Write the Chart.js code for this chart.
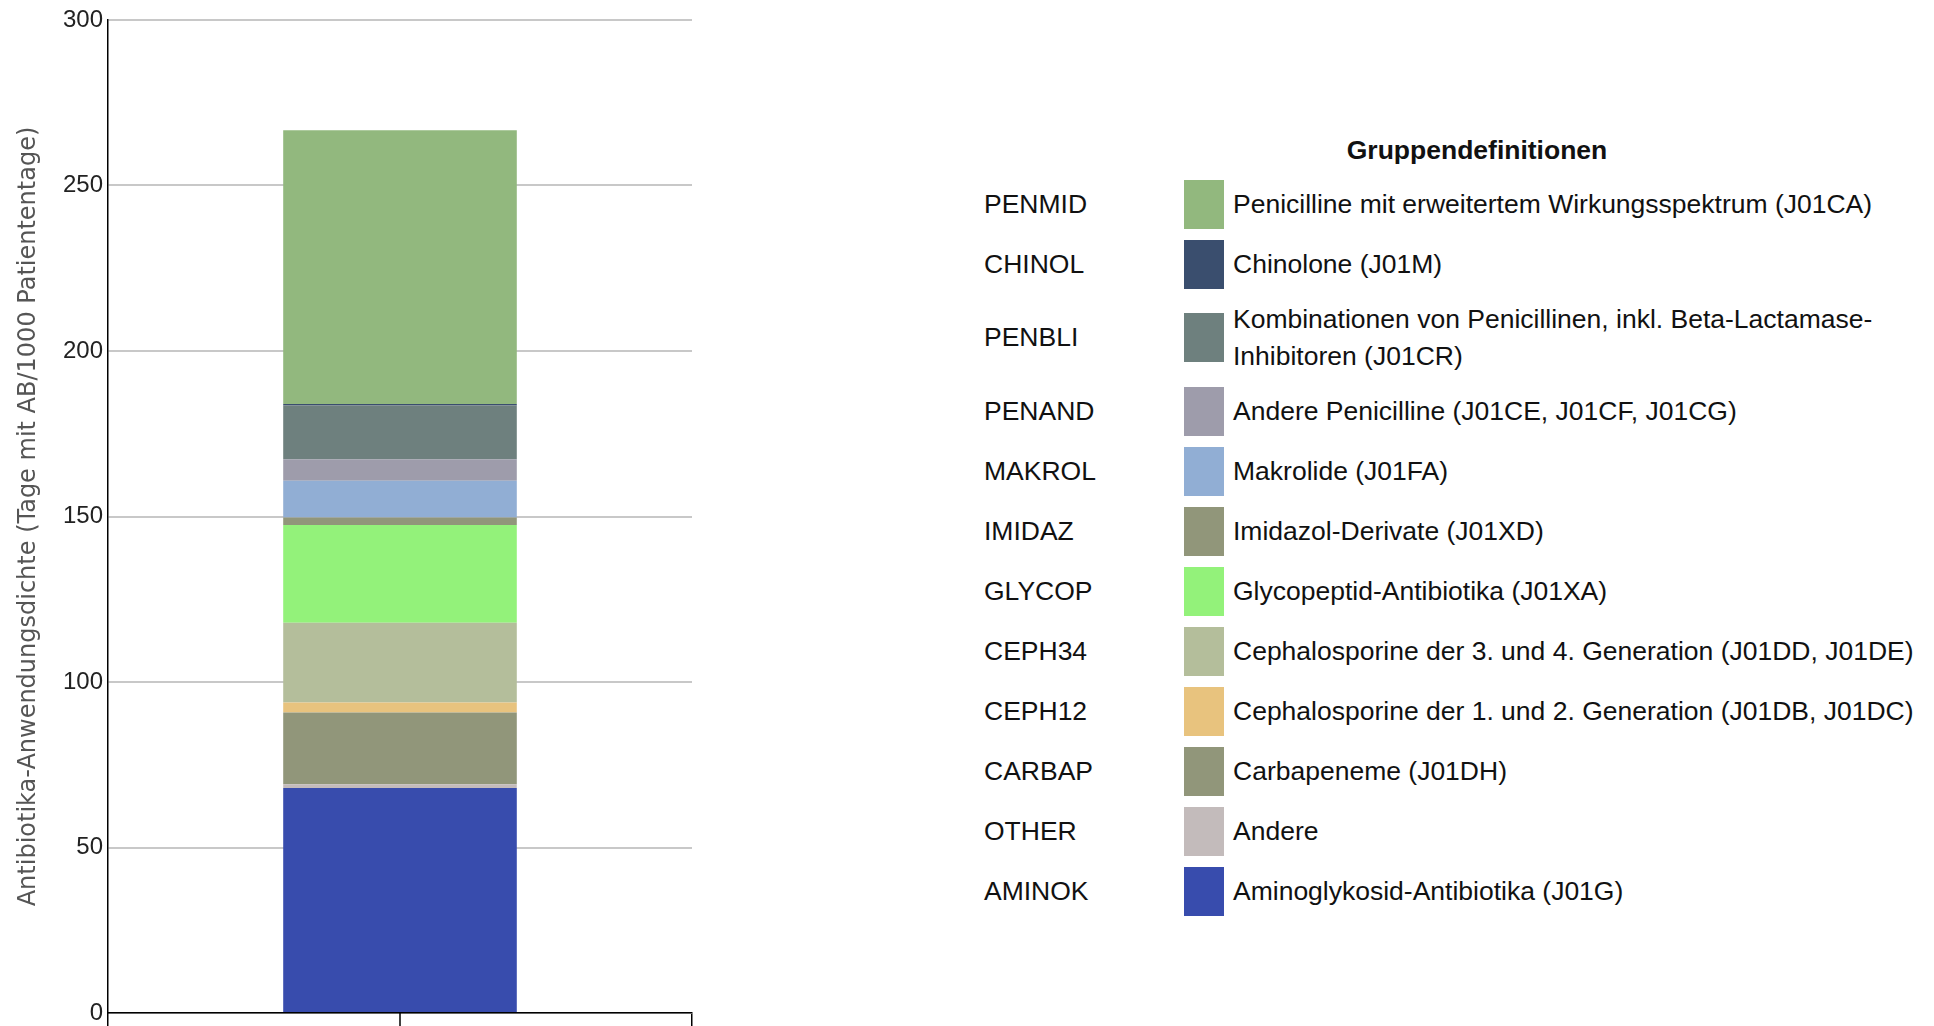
<!DOCTYPE html>
<html>
<head>
<meta charset="utf-8">
<script src="https://cdn.jsdelivr.net/npm/chart.js@4.4.1/dist/chart.umd.min.js"></script>
<style>
    body { margin: 0; background: #fff; font-family: "Liberation Sans", Arial, sans-serif; }
    #chartBox { position: absolute; left: 0; top: 0; width: 710px; height: 1026px; }
    #legendTitle { position: absolute; left: 1277px; width: 400px; top: 135px; text-align: center;
        font-weight: bold; font-size: 26.5px; color: #111; }
    #legend { position: absolute; left: 984px; top: 174px; border-collapse: collapse; font-size: 26.5px; color: #111; }
    #legend td { padding: 5.5px 0; vertical-align: middle; line-height: 37px; white-space: nowrap; }
    #legend tr.two td { padding-top: 6.8px; padding-bottom: 6.8px; }
    #legend td.code { width: 200px; }
    #legend td.sw div { width: 40px; height: 49px; }
    #legend td.txt { padding-left: 9px; width: 700px; }
</style>
</head>
<body>
<div id="chartBox"><canvas id="myChart"></canvas></div>
<div id="legendTitle">Gruppendefinitionen</div>
<table id="legend"></table>
<script>
// stacking order, bottom to top
var groups = ['AMINOK', 'OTHER', 'CARBAP', 'CEPH12', 'CEPH34', 'GLYCOP', 'IMIDAZ', 'MAKROL', 'PENAND', 'PENBLI', 'CHINOL', 'PENMID'];
var groupNames = [
    'Aminoglykosid-Antibiotika (J01G)',
    'Andere',
    'Carbapeneme (J01DH)',
    'Cephalosporine der 1. und 2. Generation (J01DB, J01DC)',
    'Cephalosporine der 3. und 4. Generation (J01DD, J01DE)',
    'Glycopeptid-Antibiotika (J01XA)',
    'Imidazol-Derivate (J01XD)',
    'Makrolide (J01FA)',
    'Andere Penicilline (J01CE, J01CF, J01CG)',
    'Kombinationen von Penicillinen, inkl. Beta-Lactamase-Inhibitoren (J01CR)',
    'Chinolone (J01M)',
    'Penicilline mit erweitertem Wirkungsspektrum (J01CA)'
];
var values = [68.0, 1.1, 21.7, 3.0, 24.1, 29.5, 2.3, 11.1, 6.5, 16.2, 0.5, 82.7];
var colors = ['#384CAD', '#C3BBBB', '#91967A', '#E8C37E', '#B4BE9B', '#93F27A', '#91967A', '#91AED4', '#9E9CAB', '#6E807E', '#3A4E6E', '#92B87E'];
var yTicks = [0, 50, 100, 150, 200, 250, 300];

window.onload = function () {
    drawLegend();
    drawChart();
}

function drawLegend() {
    var tbl = document.getElementById('legend');
    var html = '';
    for (var i = groups.length - 1; i >= 0; i--) {
        var txt = groupNames[i];
        var cls = '';
        if (groups[i] == 'PENBLI') {
            txt = 'Kombinationen von Penicillinen, inkl. Beta-Lactamase-<br>Inhibitoren (J01CR)';
            cls = ' class="two"';
        }
        html += '<tr' + cls + '><td class="code">' + groups[i] + '</td>' +
            '<td class="sw"><div style="background:' + colors[i] + '"></div></td>' +
            '<td class="txt">' + txt + '</td></tr>';
    }
    tbl.innerHTML = html;
}

// small tick under the bar centre
var centerTick = {
    id: 'centerTick',
    afterDraw: function (chart) {
        var ctx = chart.ctx;
        var x = chart.scales.x.getPixelForValue(0);
        var b = chart.chartArea.bottom;
        ctx.save();
        ctx.strokeStyle = '#000';
        ctx.lineWidth = 1.5;
        ctx.beginPath();
        ctx.moveTo(x, b);
        ctx.lineTo(x, b + 13);
        ctx.stroke();
        ctx.restore();
    }
};

function drawChart() {
    var ds = [];
    for (var i = 0; i < groups.length; i++) {
        ds.push({
            label: groups[i],
            data: [values[i]],
            backgroundColor: colors[i],
            borderWidth: 0,
            barPercentage: 0.4,
            categoryPercentage: 1.0
        });
    }
    var ctx = document.getElementById('myChart').getContext('2d');
    var myChart = new Chart(ctx, {
        type: 'bar',
        data: { labels: [''], datasets: ds },
        plugins: [centerTick],
        options: {
            responsive: true,
            maintainAspectRatio: false,
            animation: false,
            layout: { padding: { top: 20, right: 18, left: 0, bottom: 0 } },
            plugins: { legend: { display: false }, tooltip: { enabled: false } },
            scales: {
                x: {
                    stacked: true,
                    ticks: { display: false },
                    grid: { drawOnChartArea: false, color: '#000', lineWidth: 1.5, tickLength: 13 },
                    border: { color: '#000', width: 1.5 },
                    afterFit: function (s) { s.height = 13; }
                },
                y: {
                    stacked: true,
                    min: 0,
                    max: 300,
                    afterBuildTicks: function (s) { s.ticks = yTicks.map(function (v) { return { value: v }; }); },
                    ticks: { color: '#222', padding: 5, font: { family: 'Liberation Sans', size: 24 } },
                    grid: { color: '#c8c8c8', lineWidth: 2, drawTicks: false },
                    border: { color: '#000', width: 1.5 },
                    title: {
                        display: true,
                        text: 'Antibiotika-Anwendungsdichte (Tage mit AB/1000 Patiententage)',
                        color: '#555',
                        font: { family: 'DejaVu Sans', size: 24 },
                        padding: { top: 14, bottom: 0 }
                    },
                    afterFit: function (s) {
                        s.width = 108;
                        s.paddingTop = 0;
                        s.paddingBottom = 0;
                    }
                }
            }
        }
    });
}
</script>
</body>
</html>
